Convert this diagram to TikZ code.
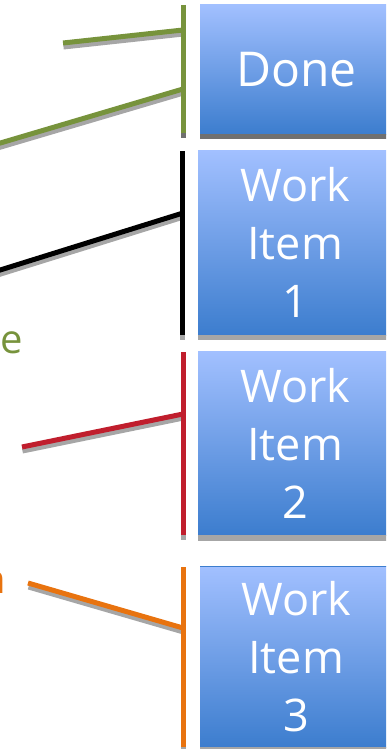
\documentclass[tikz,border=0pt]{standalone}
\usepackage{fontspec}
\setmainfont{Open Sans}
\usetikzlibrary{calc}
\definecolor{boxtop}{RGB}{162,192,255}
\definecolor{boxbot}{RGB}{60,125,206}
\definecolor{lgreen}{RGB}{119,147,60}
\definecolor{lred}{RGB}{192,30,45}
\definecolor{lorange}{RGB}{232,115,15}
\definecolor{shgray}{RGB}{166,166,166}
\definecolor{shdark}{RGB}{112,112,112}
\begin{document}
\begin{tikzpicture}[x=1pt,y=-1pt,
  box/.style={draw=none, top color=boxtop, bottom color=boxbot, anchor=north west,
    inner sep=0pt, text=white, align=center, font=\fontsize{45}{58}\selectfont},
  conn/.style={line width=5pt},
  shadowln/.style={line width=5pt, draw=shgray},
  lbl/.style={inner sep=0pt, anchor=base east, font=\fontsize{40}{50}\selectfont}]
\useasboundingbox (0,0) rectangle (386,749);
\clip (0,0) rectangle (386,749);
\newcommand\shline[3]{%
  \draw[shadowln] ([shift={(0.5pt,-4pt)}]#2) -- ([shift={(0.5pt,-4pt)}]#3);
  \draw[conn,#1] (#2) -- (#3);}
% boxes
\node[box, minimum width=192pt, minimum height=130pt, font=\fontsize{48}{58}\selectfont] (done) at (200,4) {Done};
\fill[shdark] (done.south west) rectangle ++(192,5);
\node[box, minimum width=194pt, minimum height=185pt] (w1) at (198,150) {Work\\Item\\1};
\fill[shgray] (w1.south west) rectangle ++(194,5);
\node[box, minimum width=194pt, minimum height=184pt] (w2) at (198,351) {Work\\Item\\2};
\fill[shgray] (w2.south west) rectangle ++(194,6);
\node[box, minimum width=192pt, minimum height=181pt] (w3) at (200,566) {Work\\Item\\3};
\draw[boxbot, line width=1pt] (w3.north west) -- (w3.north east);
\fill[shgray] (w3.south west) rectangle ++(192,5);
% labels (cut off at the left edge, as in the reference)
\node[lbl, text=lgreen] (lp) at (23,353) {pe};
\node[lbl, text=lorange] (ln) at (6,593) {n};
% coordinates
\coordinate (gt) at (183.5,5);   \coordinate (gb) at (183.5,133);
\coordinate (bt) at (182.5,151); \coordinate (bb) at (182.5,335);
\coordinate (rt) at (183.5,352); \coordinate (rb) at (183.5,535);
\coordinate (ot) at (183.5,567); \coordinate (ob) at (183.5,747);
\coordinate (g1a) at (63,43);  \coordinate (g1b) at (183,30);
\coordinate (g2a) at (-3,144); \coordinate (g2b) at (183,89);
\coordinate (k1a) at (-3,271); \coordinate (k1b) at (183,213);
\coordinate (r1a) at (22,447); \coordinate (r1b) at (183,414);
\coordinate (o1a) at (28,583); \coordinate (o1b) at (183,628);
% connectors
\shline{lgreen}{g1a}{g1b}
\shline{lgreen}{g2a}{g2b}
\fill[shdark] (181,133) rectangle (186,138);
\draw[conn, lgreen] (gt) -- (gb);
\shline{black}{k1a}{k1b}
\fill[shgray] (180,335) rectangle (185,340);
\draw[conn, black] (bt) -- (bb);
\shline{lred}{r1a}{r1b}
\fill[shgray] (181,535) rectangle (186,540);
\draw[conn, lred] (rt) -- (rb);
\shline{lorange}{o1a}{o1b}
\fill[shgray] (181,747) rectangle (186,752);
\draw[conn, lorange] (ot) -- (ob);
\end{tikzpicture}
\end{document}
